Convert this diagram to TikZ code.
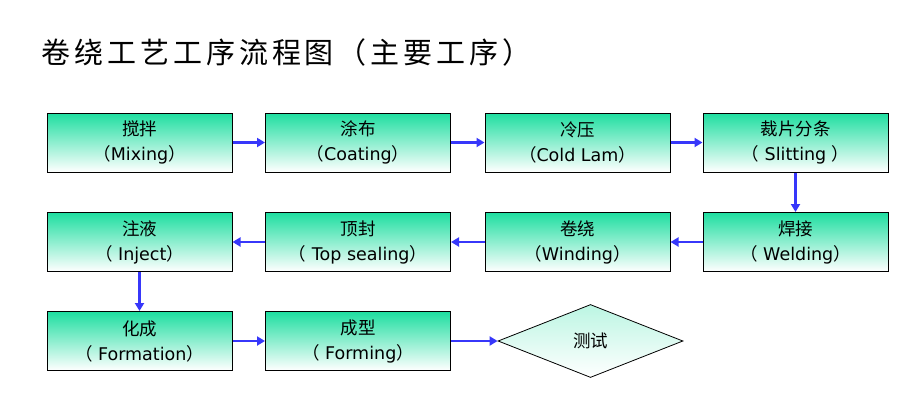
\documentclass[tikz,border=0pt]{standalone}
\usepackage{fontspec}
\setmainfont{DejaVu Sans}
\newfontfamily\cjk{Noto Sans CJK SC}
\usetikzlibrary{shapes.geometric,arrows.meta}
\newcommand{\myl}{{\cjk （}}
\newcommand{\myr}{{\cjk ）}}
\definecolor{topg}{RGB}{30,222,160}
\definecolor{arr}{RGB}{55,55,250}
\tikzset{
 box/.style={draw=black,line width=1pt,minimum width=185pt,minimum height=59pt,top color=topg,bottom color=white,align=center,font=\fontsize{17.5}{25}\selectfont,inner sep=0pt},
 dia/.style={diamond,draw=black,line width=0.8pt,minimum width=185pt,minimum height=73pt,inner sep=0pt,aspect=2.5,top color=topg!30,bottom color=white,font=\cjk\fontsize{17.5}{20}\selectfont},
 ar/.style={draw=arr,line width=2.5pt,-{Triangle[length=8pt,width=9pt]}}
}
\begin{document}
\begin{tikzpicture}[x=1pt,y=-1pt]
\useasboundingbox (0,0) rectangle (911,418);
\node[anchor=west,font=\cjk\fontsize{29}{32}\selectfont,text width=490pt] (t) at (38,52) {卷\hfill 绕\hfill 工\hfill 艺\hfill 工\hfill 序\hfill 流\hfill 程\hfill 图\hfill （\hfill 主\hfill 要\hfill 工\hfill 序\hfill ）};
\node[box] (a) at (139.5,142.5) {{\cjk 搅拌}\\\myl Mixing\myr};
\node[box] (b) at (358,142.5) {{\cjk 涂布}\\\myl Coating\myr};
\node[box] (c) at (577.5,142.5) {{\cjk 冷压}\\\myl Cold Lam\myr};
\node[box] (d) at (795.5,142.5) {{\cjk 裁片分条}\\\myl\ Slitting \myr};
\node[box] (h) at (139.5,242) {{\cjk 注液}\\\myl\ Inject\myr};
\node[box] (g) at (358,242) {{\cjk 顶封}\\\myl\ Top sealing\myr};
\node[box] (f) at (577.5,242) {{\cjk 卷绕}\\\myl Winding\myr};
\node[box] (e) at (795.5,242) {{\cjk 焊接}\\\myl\ Welding\myr};
\node[box] (i) at (139.5,341) {{\cjk 化成}\\\myl\ Formation\myr};
\node[box] (j) at (358,341) {{\cjk 成型}\\\myl\ Forming\myr};
\node[dia] (k) at (590.5,341) {测试};
\draw[ar] (a) -- (b); \draw[ar] (b) -- (c); \draw[ar] (c) -- (d);
\draw[ar] (d) -- (e); \draw[ar] (e) -- (f); \draw[ar] (f) -- (g);
\draw[ar] (g) -- (h); \draw[ar] (h) -- (i); \draw[ar] (i) -- (j);
\draw[ar] (j) -- (k);
\end{tikzpicture}
\end{document}
